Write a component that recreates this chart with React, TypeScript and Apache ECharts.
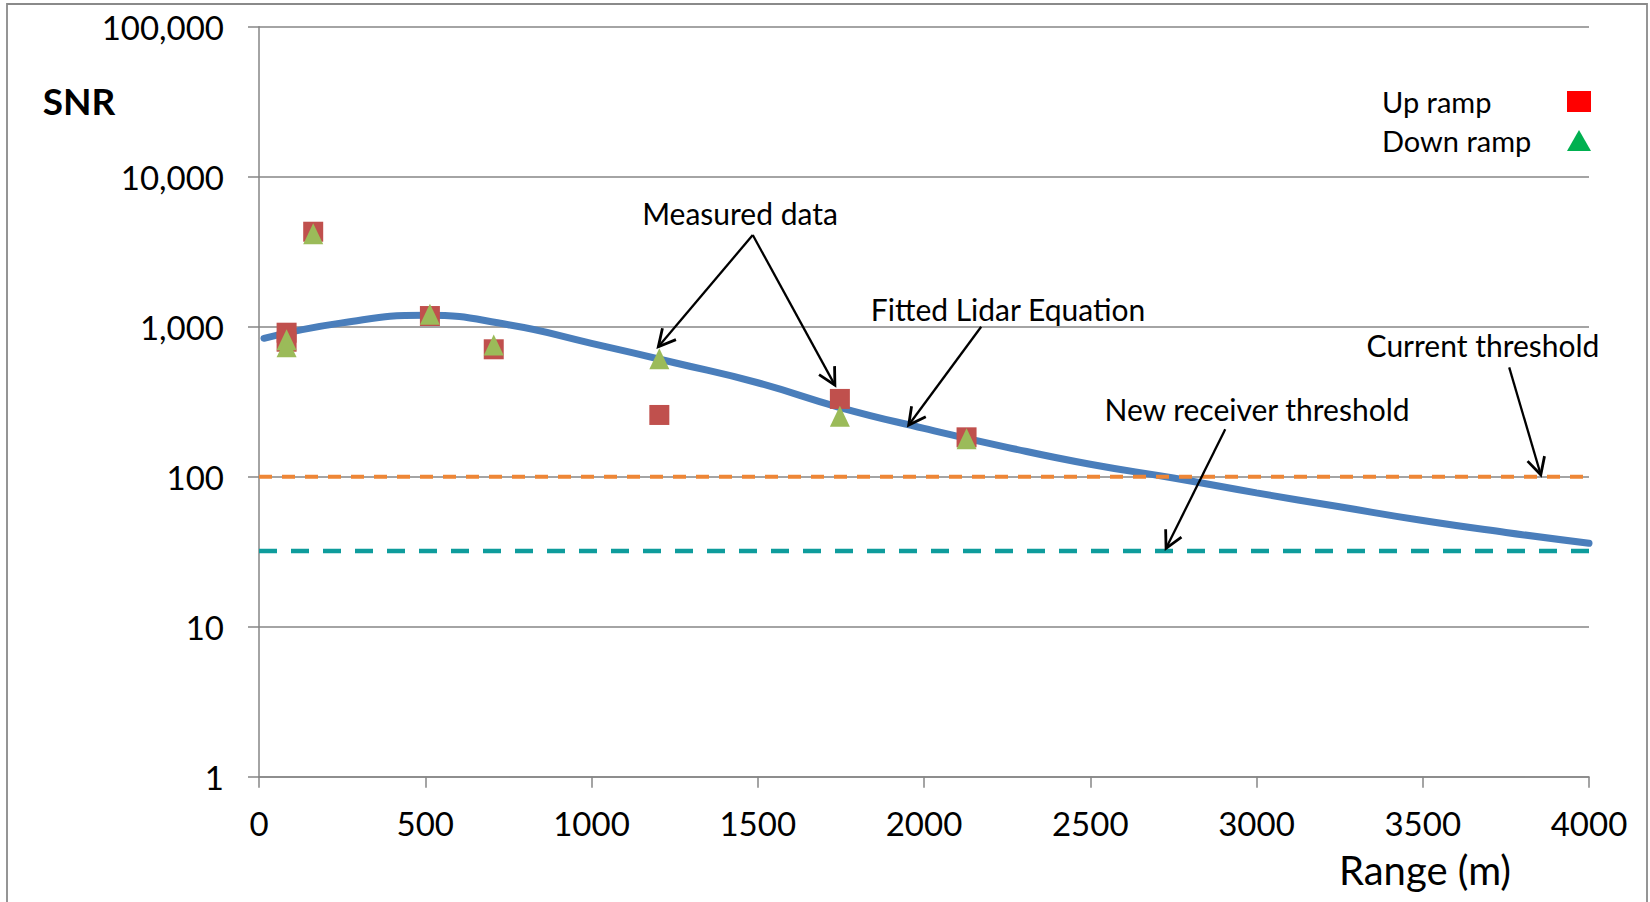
import React, { useEffect, useRef } from "react";
import * as echarts from "echarts";

// ---- data ----
const upRange = [83, 83, 163, 514, 706, 1204, 1747, 2128];
const upSnr = [912, 794, 4297, 1178, 707, 258, 330, 183];
const downRange = [83, 83, 163, 514, 706, 1204, 1747, 2128];
const downSnr = [819, 736, 4169, 1211, 755, 611, 253, 179];

const fitRange = [15, 250, 500, 750, 1000, 1250, 1500, 1750, 2000, 2250, 2500, 2750, 3000, 3250, 3500, 3750, 4000];
const fitSnr = [837, 1060, 1190, 1030, 775, 575, 423, 288, 210, 157, 121, 98, 78, 63, 51, 42.5, 36];

const currentThreshold = 100;
const currentThresholdRange = [0, 4048];
const newThreshold = 32;
const newThresholdRange = [0, 4087];

const xTicks = [0, 500, 1000, 1500, 2000, 2500, 3000, 3500, 4000];
const yTicks = [1, 10, 100, 1000, 10000, 100000];

// annotation arrows: [fromRange, fromSnr, toRange, toSnr]
const arrows = [
  [1485, 4086, 1201, 735],
  [1485, 4086, 1732, 408],
  [2172, 1000, 1954, 221],
  [3760, 536, 3855, 103],
  [2906, 207, 2728, 33.3],
];

const FONT = "Lato";

export default function App() {
  const ref = useRef<HTMLDivElement>(null);
  useEffect(() => {
    if (!ref.current) return;
    const chart = echarts.init(ref.current, null, { renderer: "svg" });
    const textStyle = (size: number, extra: any = {}) => ({
      fontFamily: FONT,
      fontSize: size,
      fill: "#000",
      ...extra,
    });
    chart.setOption({
      animation: false,
      backgroundColor: "#fff",
      grid: { left: 259, right: 61, top: 26.7, bottom: 125.3, containLabel: false },
      xAxis: {
        type: "value",
        min: xTicks[0],
        max: xTicks[xTicks.length - 1],
        interval: 500,
        axisLine: { show: true, lineStyle: { color: "#868686", width: 1.5 } },
        axisTick: { show: true, length: 11, lineStyle: { color: "#868686", width: 1.5 } },
        splitLine: { show: false },
        axisLabel: {
          fontFamily: FONT,
          fontSize: 33,
          color: "#000",
          margin: 30,
          formatter: (v: number) => String(Math.round(v)),
        },
      },
      yAxis: {
        type: "log",
        logBase: 10,
        min: yTicks[0],
        max: yTicks[yTicks.length - 1],
        splitNumber: 5,
        axisLine: { show: true, lineStyle: { color: "#868686", width: 1.5 } },
        axisTick: { show: true, length: 11, lineStyle: { color: "#868686", width: 1.5 } },
        splitLine: { show: true, lineStyle: { color: "#868686", width: 1.5 } },
        axisLabel: {
          fontFamily: FONT,
          fontSize: 33,
          color: "#000",
          margin: 35,
          formatter: (v: number) => Math.round(v).toLocaleString("en-US"),
        },
      },
      legend: {
        show: true,
        orient: "vertical",
        right: 54,
        top: 82,
        align: "right",
        itemWidth: 24,
        itemHeight: 21,
        itemGap: 10,
        selectedMode: false,
        data: [
          { name: "Up ramp", icon: "rect", itemStyle: { color: "#FF0000" } },
          { name: "Down ramp", icon: "triangle", itemStyle: { color: "#00B050" } },
        ],
        formatter: (name: string) => "{a|" + name + "}",
        textStyle: {
          fontFamily: FONT,
          fontSize: 29,
          color: "#000",
          rich: { a: { fontFamily: FONT, fontSize: 29, color: "#000", width: 180, align: "left", lineHeight: 31 } },
        },
      },
      graphic: [
        {
          type: "rect",
          silent: true,
          shape: { x: 7, y: 4, width: 1640, height: 920 },
          style: { fill: "none", stroke: "#8a8a8a", lineWidth: 1.8 },
          z: 0,
        },
        { type: "text", x: 79, y: 100, style: textStyle(37, { text: "SNR", fontWeight: "bold", align: "center", verticalAlign: "middle" }) },
        { type: "text", x: 1425, y: 870, style: textStyle(40, { text: "Range (m)", align: "center", verticalAlign: "middle" }) },
        { type: "text", x: 740, y: 213, style: textStyle(30, { text: "Measured data", align: "center", verticalAlign: "middle" }) },
        { type: "text", x: 1008, y: 309, style: textStyle(30, { text: "Fitted Lidar Equation", align: "center", verticalAlign: "middle" }) },
        { type: "text", x: 1483, y: 345, style: textStyle(30, { text: "Current threshold", align: "center", verticalAlign: "middle" }) },
        { type: "text", x: 1257, y: 409, style: textStyle(30, { text: "New receiver threshold", align: "center", verticalAlign: "middle" }) },
      ],
      series: [
        {
          name: "Fitted Lidar Equation",
          type: "line",
          smooth: 0.5,
          showSymbol: false,
          symbol: "none",
          data: fitRange.map((r, i) => [r, fitSnr[i]]),
          lineStyle: { color: "#4A7EBB", width: 7, cap: "round" },
          z: 2,
        },
        {
          name: "Up ramp",
          type: "scatter",
          symbol: "rect",
          symbolSize: 20,
          data: upRange.map((r, i) => [r, upSnr[i]]),
          itemStyle: { color: "#C0504D", opacity: 1 },
          z: 3,
        },
        {
          name: "Down ramp",
          type: "scatter",
          symbol: "triangle",
          symbolSize: [20, 21],
          data: downRange.map((r, i) => [r, downSnr[i]]),
          itemStyle: { color: "#9BBB59", opacity: 1 },
          z: 4,
        },
        {
          name: "Current threshold",
          type: "line",
          clip: false,
          showSymbol: false,
          symbol: "none",
          data: currentThresholdRange.map((r) => [r, currentThreshold]),
          lineStyle: { color: "#EE8636", width: 4, type: [13, 10] },
          z: 5,
        },
        {
          name: "New receiver threshold",
          type: "line",
          clip: false,
          showSymbol: false,
          symbol: "none",
          data: newThresholdRange.map((r) => [r, newThreshold]),
          lineStyle: { color: "#0E9C9C", width: 4.5, type: [18, 14] },
          z: 5,
        },
        {
          name: "Annotations",
          type: "custom",
          silent: true,
          data: arrows,
          encode: { x: [0, 2], y: [1, 3] },
          renderItem: (params: any, api: any) => {
            const p1 = api.coord([api.value(0), api.value(1)]);
            const p2 = api.coord([api.value(2), api.value(3)]);
            const ang = Math.atan2(p2[1] - p1[1], p2[0] - p1[0]);
            const L = 19;
            const A = Math.PI / 6.5;
            const h1 = [p2[0] - L * Math.cos(ang - A), p2[1] - L * Math.sin(ang - A)];
            const h2 = [p2[0] - L * Math.cos(ang + A), p2[1] - L * Math.sin(ang + A)];
            return {
              type: "group",
              children: [
                { type: "line", shape: { x1: p1[0], y1: p1[1], x2: p2[0], y2: p2[1] }, style: { stroke: "#000", lineWidth: 2.3 } },
                { type: "polyline", shape: { points: [h1, p2, h2] }, style: { stroke: "#000", lineWidth: 2.8, fill: null } },
              ],
            };
          },
          z: 6,
        },
      ],
    });
    return () => chart.dispose();
  }, []);
  return <div ref={ref} style={{ position: "absolute", left: 0, top: 0, width: 1650, height: 902 }} />;
}
